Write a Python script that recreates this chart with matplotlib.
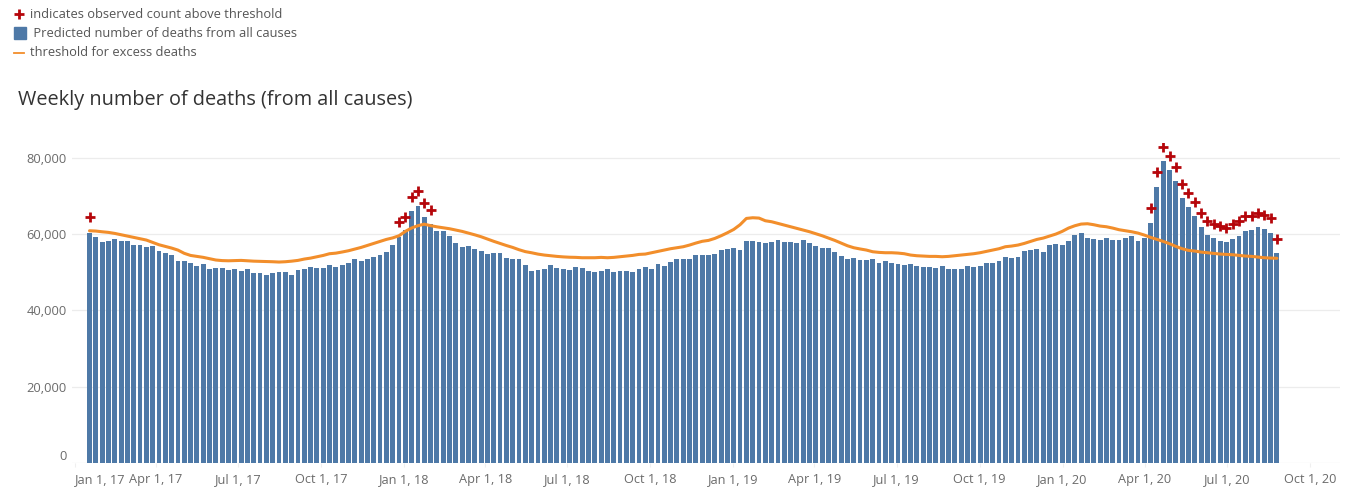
import numpy as np
import pandas as pd
import matplotlib
matplotlib.use('Agg')
import matplotlib.pyplot as plt
import matplotlib.dates as mdates
from matplotlib.ticker import FuncFormatter

plt.rcParams['font.family'] = ['Open Sans', 'DejaVu Sans']

# weekly data, week ending Saturday
weeks = pd.date_range('2017-01-14', periods=189, freq='7D')

predicted = [
    60350, 59300, 57990, 58250, 58780, 58250, 58250, 57210, 57210, 56510,
    56940, 55630, 55110, 54580, 53010, 53010, 52490, 51700, 52230, 50920,
    51180, 51180, 50650, 50920, 50390, 50920, 49870, 49870, 49340, 49870,
    50130, 50130, 49340, 50650, 50920, 51440, 51180, 51180, 51960, 51440,
    51960, 52490, 53540, 53010, 53540, 54060, 54580, 55370, 57210, 59300,
    61050, 66110, 67420, 64540, 62710, 60870, 60870, 59560, 57730, 56680,
    56940, 56160, 55630, 54850, 55110, 55110, 53800, 53540, 53540, 51960,
    50390, 50650, 50920, 51960, 51180, 50920, 50650, 51440, 51180, 50390,
    50130, 50390, 50920, 50130, 50390, 50390, 50130, 50920, 51440, 50920,
    52230, 51700, 52750, 53540, 53540, 53540, 54580, 54580, 54580, 54850,
    55900, 56160, 56420, 55900, 58250, 58250, 57990, 57730, 57990, 58520,
    57990, 57990, 57730, 58520, 57730, 56940, 56420, 56420, 55370, 54320,
    53540, 53800, 53280, 53280, 53540, 52490, 53010, 52490, 52230, 51960,
    52230, 51700, 51440, 51440, 51180, 51700, 50920, 50920, 50920, 51700,
    51440, 51700, 52490, 52490, 53010, 54060, 53800, 54060, 55630, 55900,
    56160, 55370, 57210, 57470, 57210, 58250, 59830, 60350, 59040, 58780,
    58520, 59040, 58520, 58520, 59040, 59560, 58250, 59040, 62970, 72400,
    79210, 76860, 73970, 69520, 67160, 64800, 61920, 59830, 59040, 58250,
    57990, 58780, 59560, 60870, 61140, 61920, 61400, 60350, 55110,
]

threshold = [
    60870, 60790, 60600, 60440, 60170, 59830, 59480, 59130, 58780, 58430,
    57800, 57200, 56770, 56330, 55800, 54950, 54400, 54150, 53900, 53540,
    53200, 53050, 53000, 53050, 53100, 53000, 52900, 52840, 52800, 52750,
    52670, 52750, 52900, 53100, 53450, 53700, 54060, 54400, 54850, 55000,
    55300, 55630, 56070, 56500, 57030, 57550, 58080, 58600, 59000, 59560,
    60700, 61600, 62200, 62600, 62200, 61900, 61650, 61400, 61050, 60700,
    60250, 59800, 59300, 58700, 58100, 57550, 57000, 56500, 55900, 55400,
    55100, 54750, 54500, 54320, 54150, 54020, 53930, 53890, 53800, 53800,
    53800, 53890, 53800, 53890, 54060, 54240, 54410, 54670, 54760, 55110,
    55460, 55810, 56160, 56420, 56680, 57120, 57640, 58100, 58340, 58860,
    59560, 60350, 61220, 62450, 64100, 64280, 64190, 63490, 63230, 62800,
    62360, 61920, 61480, 61050, 60610, 60090, 59560, 58950, 58340, 57640,
    56940, 56420, 56100, 55810, 55370, 55200, 55110, 55110, 55020, 54850,
    54500, 54320, 54240, 54150, 54150, 54060, 54150, 54320, 54500, 54670,
    54850, 55110, 55460, 55810, 56160, 56680, 56860, 57120, 57550, 58080,
    58600, 58950, 59480, 60000, 60700, 61570, 62180, 62620, 62710, 62450,
    62100, 61920, 61570, 61140, 60870, 60610, 60260, 59740, 59130, 58600,
    58080, 57470, 56770, 56160, 55720, 55550, 55280, 55110, 54930, 54760,
    54670, 54580, 54410, 54240, 54150, 53970, 53800, 53710, 53650,
]

# weeks where the observed count was above the threshold
above_weeks = (['2017-01-14']
               + [d.strftime('%Y-%m-%d') for d in pd.date_range('2017-12-23', periods=6, freq='7D')]
               + [d.strftime('%Y-%m-%d') for d in pd.date_range('2020-04-04', periods=21, freq='7D')])
above_counts = [
    64540,
    63060, 64540, 69800, 71200, 68200, 66400,
    66720, 76160, 82880, 80520, 77640, 73100, 70740, 68470, 65500, 63490,
    62710, 62010, 61660, 62620, 63320, 64630, 64800, 65590, 65070, 64190,
    58780,
]

quarter_ticks = pd.date_range('2017-01-01', '2020-10-01', freq='QS')
quarter_labels = [d.strftime('%b 1, %y') for d in quarter_ticks]

blue = '#4e79a7'
orange = '#f28e2b'
red = '#b5060b'

fig = plt.figure(figsize=(13.53, 4.91), dpi=100)
ax = fig.add_axes([72 / 1353, 28 / 491, 1268 / 1353, 320.5 / 491])

mid = weeks + pd.Timedelta(days=3.5)
ax.bar(mid, predicted, width=5.4, color=blue, zorder=2)
ax.plot(mid, threshold, color=orange, lw=2.2, zorder=3, solid_capstyle='round')
above_mid = pd.to_datetime(above_weeks) + pd.Timedelta(days=3.5)
ax.plot(above_mid, above_counts, ls='none', marker='+', ms=7, mew=2,
        color=red, zorder=4)

ax.set_ylim(0, 84000)
ax.set_xlim(pd.Timestamp('2016-12-29 02:00'), pd.Timestamp('2020-11-03 10:00'))

ax.set_yticks([0, 20000, 40000, 60000, 80000])
ax.yaxis.set_major_formatter(FuncFormatter(lambda v, p: f'{int(v):,}'))
ax.grid(axis='y', color='#ececec', lw=0.9, zorder=0)
ax.set_axisbelow(True)
ax.tick_params(axis='y', length=0, pad=4, labelsize=9.3, labelcolor='#6b6b6b')
for t in ax.get_yticklabels():
    if t.get_text() == '0':
        t.set_va('bottom')

ax.set_xticks(quarter_ticks)
ax.set_xticklabels(quarter_labels)
ax.tick_params(axis='x', length=3, color='#efefef', pad=4.5, labelsize=9.2,
               labelcolor='#6b6b6b')
ax.get_xticklabels()[0].set_ha('left')

for s in ax.spines.values():
    s.set_visible(False)

# legend and title in pixel coordinates
lax = fig.add_axes([0, 0, 1, 1])
lax.set_xlim(0, 1353)
lax.set_ylim(491, 0)
lax.axis('off')
lax.patch.set_alpha(0)
lax.plot([19], [13.5], marker='+', ms=7, mew=2, color=red)
lax.plot([19.5], [33], marker='s', ms=8, color=blue)
lax.plot([14, 24], [52.5, 52.5], color=orange, lw=1.3)
lax.text(30, 14, 'indicates observed count above threshold', fontsize=9.3,
         color='#555555', va='center')
lax.text(30, 33, ' Predicted number of deaths from all causes', fontsize=9.3,
         color='#555555', va='center')
lax.text(30, 52.5, 'threshold for excess deaths', fontsize=9.3,
         color='#555555', va='center')
lax.text(18, 100, 'Weekly number of deaths (from all causes)', fontsize=14.3,
         color='#333333', va='center')

fig.savefig('out.png', dpi=100)
